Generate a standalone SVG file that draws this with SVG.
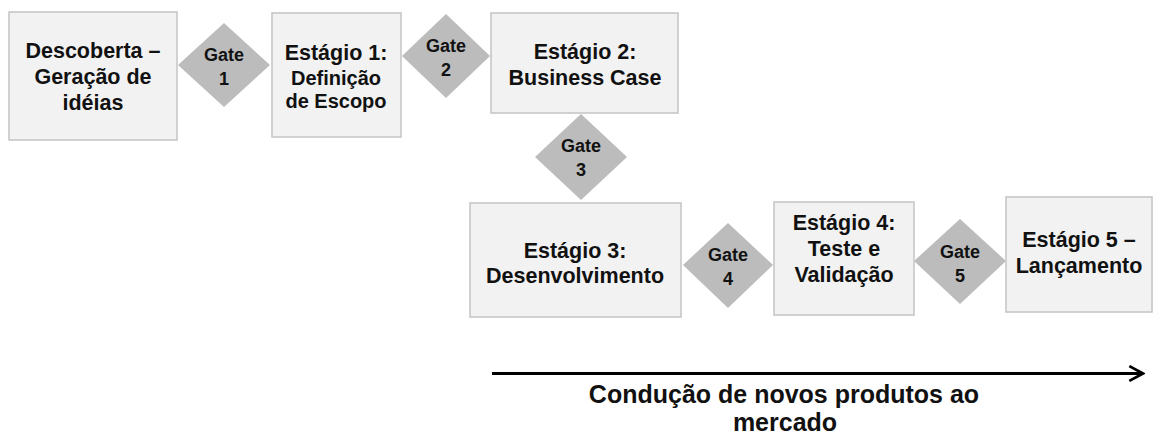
<svg xmlns="http://www.w3.org/2000/svg" width="1153" height="438" viewBox="0 0 1153 438">
<style>
.box{fill:#f2f2f2;stroke:#c4c4c4;stroke-width:1.5}
.gate{fill:#bcbcbc;stroke:none}
.t{font-family:"Liberation Sans",Arial,sans-serif;font-weight:bold;font-size:21.5px;fill:#111;text-anchor:middle}
.g{font-size:18px}
.s{font-size:20px}
.cap{font-size:25px}
</style>
<defs>
<marker id="chev" viewBox="0 0 10 10" refX="8.8" refY="5" markerWidth="5.5" markerHeight="5.5" markerUnits="strokeWidth" orient="auto">
<path d="M0.5,0.5 L8.8,5 L0.5,9.5" fill="none" stroke="#000" stroke-width="1.6"/>
</marker>
</defs>
<rect width="1153" height="438" fill="#fff"/>
<g id="connectors">
<line x1="492" y1="373.5" x2="1143" y2="373.5" stroke="#000" stroke-width="3" marker-end="url(#chev)"/>
</g>
<g id="n-descoberta">
<rect class="box" x="9" y="12" width="168" height="128"/>
<text class="t"><tspan x="93" y="58">Descoberta –</tspan><tspan x="93" y="84">Geração de</tspan><tspan x="93" y="110">idéias</tspan></text>
</g>
<g id="n-gate1">
<polygon class="gate" points="224,23 270,65 224,107 178,65"/>
<text class="t g"><tspan x="224" y="61">Gate</tspan><tspan x="224" y="85">1</tspan></text>
</g>
<g id="n-estagio1">
<rect class="box" x="272" y="13" width="129" height="124"/>
<text class="t"><tspan x="336" y="60">Estágio 1:</tspan><tspan class="s" x="336" y="85">Definição</tspan><tspan class="s" x="336" y="108">de Escopo</tspan></text>
</g>
<g id="n-gate2">
<polygon class="gate" points="446,14 490,56 446,98 402,56"/>
<text class="t g"><tspan x="446" y="52">Gate</tspan><tspan x="446" y="76">2</tspan></text>
</g>
<g id="n-estagio2">
<rect class="box" x="491" y="13" width="187" height="100"/>
<text class="t"><tspan x="585" y="59">Estágio 2:</tspan><tspan x="585" y="85">Business Case</tspan></text>
</g>
<g id="n-gate3">
<polygon class="gate" points="581,114 627,157 581,200 535,157"/>
<text class="t g"><tspan x="581" y="152">Gate</tspan><tspan x="581" y="176">3</tspan></text>
</g>
<g id="n-estagio3">
<rect class="box" x="470" y="203" width="211" height="114"/>
<text class="t"><tspan x="575" y="258">Estágio 3:</tspan><tspan x="575" y="283">Desenvolvimento</tspan></text>
</g>
<g id="n-gate4">
<polygon class="gate" points="728,223 773,265 728,308 683,265"/>
<text class="t g"><tspan x="728" y="261">Gate</tspan><tspan x="728" y="285">4</tspan></text>
</g>
<g id="n-estagio4">
<rect class="box" x="774" y="202" width="140" height="113"/>
<text class="t"><tspan x="844" y="230">Estágio 4:</tspan><tspan x="844" y="256">Teste e</tspan><tspan x="844" y="282">Validação</tspan></text>
</g>
<g id="n-gate5">
<polygon class="gate" points="960,219 1006,261 960,304 914,261"/>
<text class="t g"><tspan x="960" y="258">Gate</tspan><tspan x="960" y="282">5</tspan></text>
</g>
<g id="n-estagio5">
<rect class="box" x="1006" y="197" width="146" height="115"/>
<text class="t"><tspan x="1079" y="247">Estágio 5 –</tspan><tspan x="1079" y="273">Lançamento</tspan></text>
</g>
<g id="caption">
<text class="t cap"><tspan x="784" y="403">Condução de novos produtos ao</tspan><tspan x="785" y="431">mercado</tspan></text>
</g>
</svg>
